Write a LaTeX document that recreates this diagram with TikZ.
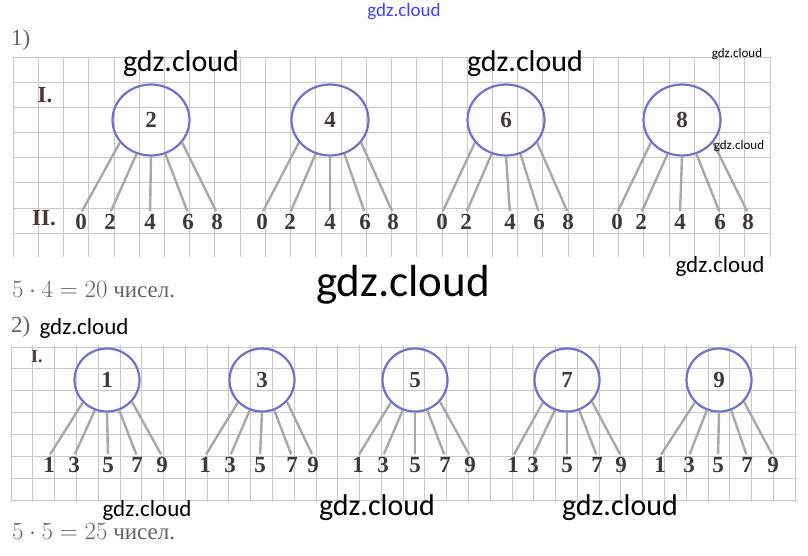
\documentclass[tikz,border=0pt]{standalone}
\usepackage{fontspec}
\setmainfont{Liberation Serif}
\newfontfamily\wmfont{Carlito}
\usetikzlibrary{shapes.geometric}

\definecolor{ringblue}{RGB}{112,112,205}
\definecolor{branchgray}{RGB}{168,168,168}
\definecolor{cellgray}{RGB}{200,200,200}
\definecolor{inkdark}{RGB}{62,56,56}
\definecolor{tagdark}{RGB}{82,50,50}
\definecolor{textgray}{RGB}{100,100,100}

\tikzset{
  bubble/.style={draw=ringblue, line width=2.2pt, ellipse, inner sep=0pt,
    text=inkdark, font=\fontsize{23}{23}\selectfont\bfseries},
  leaf/.style={inner sep=1pt, text=inkdark, font=\fontsize{23}{23}\selectfont\bfseries},
  branch/.style={draw=branchgray, line width=2.4pt, shorten >=2pt},
  cell/.style={draw=cellgray, line width=0.8pt},
  tag/.style={text=tagdark, font=\fontsize{23}{23}\selectfont\bfseries},
  note/.style={text=textgray, anchor=west, inner sep=0pt, font=\fontsize{23}{23}\selectfont},
  wm/.style={inner sep=0pt, font=\wmfont\fontsize{#1}{#1}\selectfont}
}

\begin{document}
\begin{tikzpicture}[x=1pt, y=-1pt]
  \useasboundingbox[fill=white] (0,0) rectangle (808,555);

  % part 1: grid
  \foreach \i in {0,...,7} \draw[cell] (13,57+25.15*\i) -- (770,57+25.15*\i);
  \foreach \i in {0,...,30} \draw[cell] (13+25.23*\i,57) -- (13+25.23*\i,257);

  \node[note] (p1) at (11,40) {1)};
  \node[tag] (L1) at (45,95) {I.};
  \node[tag] (L2) at (44,218) {II.};

  \foreach \c/\x/\a/\b/\m/\d/\e in {2/151/81/110/150/188/217, 4/330/262/290/330/365/393,
      6/506/442/466/510/539/568, 8/682/617/641/680/720/748} {
    \node[bubble, minimum width=77pt, minimum height=71pt] (c\c) at (\x,120) {\c};
    \node[leaf] (n\c-0) at (\a,222) {0};
    \node[leaf] (n\c-2) at (\b,222) {2};
    \node[leaf] (n\c-4) at (\m,222) {4};
    \node[leaf] (n\c-6) at (\d,222) {6};
    \node[leaf] (n\c-8) at (\e,222) {8};
    \foreach \k/\ang in {0/216, 2/247, 4/270, 6/293, 8/324}
      \draw[branch] (c\c.\ang) -- (n\c-\k.north);
  }

  \node[note] (r1) at (12,290) {$5\cdot4=20$ чисел.};

  % part 2: grid
  \node[note] (p2) at (11,327) {2)};
  \foreach \i in {0,...,7} \draw[cell] (11,347+21.86*\i) -- (797,347+21.86*\i);
  \foreach \i in {0,...,36} \draw[cell] (11+21.78*\i,345) -- (11+21.78*\i,502);

  \node[tag, font=\fontsize{18}{18}\selectfont\bfseries] (L3) at (37,357) {I.};

  \foreach \c/\x/\a/\b/\m/\d/\e in {1/107/49/74/108/137/162, 3/262/205/230/260/292/313,
      5/415/358/383/415/445/470, 7/567/513/533/567/597/621, 9/719/660/689/718/747/773} {
    \node[bubble, minimum width=65pt, minimum height=63pt] (c\c) at (\x,380) {\c};
    \node[leaf] (n\c-1) at (\a,465) {1};
    \node[leaf] (n\c-3) at (\b,465) {3};
    \node[leaf] (n\c-5) at (\m,465) {5};
    \node[leaf] (n\c-7) at (\d,465) {7};
    \node[leaf] (n\c-9) at (\e,465) {9};
    \foreach \k/\ang in {1/223, 3/248, 5/270, 7/292, 9/319}
      \draw[branch] (c\c.\ang) -- (n\c-\k.north);
  }

  \node[note] (r2) at (12,532) {$5\cdot5=25$ чисел.};

  % watermarks
  \node[wm=19, text=blue!75] (w0) at (404,12) {gdz.cloud};
  \node[wm=30] (w1) at (181,64) {gdz.cloud};
  \node[wm=30] (w2) at (525,64) {gdz.cloud};
  \node[wm=13] (w3) at (737,54) {gdz.cloud};
  \node[wm=13] (w4) at (739,146) {gdz.cloud};
  \node[wm=23] (w5) at (720,266) {gdz.cloud};
  \node[wm=45] (w6) at (403,285) {gdz.cloud};
  \node[wm=23] (w7) at (84,328) {gdz.cloud};
  \node[wm=23] (w8) at (147,510) {gdz.cloud};
  \node[wm=30] (w9) at (377,508) {gdz.cloud};
  \node[wm=30] (w10) at (620,508) {gdz.cloud};
\end{tikzpicture}
\end{document}
